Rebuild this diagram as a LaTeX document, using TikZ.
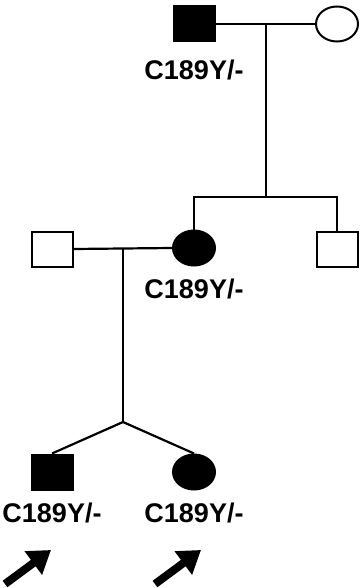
\documentclass[tikz,border=0pt]{standalone}
\usepackage{fontspec}
\setmainfont{Liberation Sans}
\usetikzlibrary{shapes.geometric,positioning,arrows.meta}

\begin{document}
\begin{tikzpicture}[
    x=1pt, y=-1pt,
    male/.style={rectangle, draw=black, line width=2pt, fill=white, minimum width=41pt, minimum height=35pt, inner sep=0pt},
    female/.style={ellipse, draw=black, line width=2pt, fill=white, minimum width=42pt, minimum height=35pt, inner sep=0pt},
    affected/.style={fill=black},
    genotype/.style={font=\fontsize{27}{30}\selectfont\bfseries, inner sep=0pt},
    link/.style={line width=2.2pt},
    proband/.style={line width=8pt, -{Triangle[length=22pt,width=28pt]}}
]
\useasboundingbox (0,0) rectangle (360,588);

% Generation I
\node[male, affected] (gf) at (194, 24) {};
\node[female] (gm) at (337, 24) {};
\node[genotype, below=17pt of gf] (gflab) {C189Y/-};

% Generation II
\node[male] (fa) at (52, 249) {};
\node[female, affected] (mo) at (194, 248) {};
\node[male] (uncle) at (337, 249) {};
\node[genotype, below=12pt of mo] (molab) {C189Y/-};

% Generation III
\node[male, affected] (son) at (52, 472) {};
\node[female, affected] (dau) at (194, 472) {};
\node[genotype, below=12pt of son] (sonlab) {C189Y/-};
\node[genotype, below=12pt of dau] (daulab) {C189Y/-};

% Helper points
\coordinate (m1) at (266, 24);
\coordinate (s1) at (266, 197);
\coordinate (s1l) at (194, 197);
\coordinate (s1r) at (337, 197);
\coordinate (m2) at (123, 249);
\coordinate (s2) at (123, 422);

% Lines
\draw[link] (gf.east) -- (gm.west);
\draw[link] (m1) -- (s1);
\draw[link] (mo.north) -- (s1l) -- (s1r) -- (uncle.north);
\draw[link] (fa.east) -- (mo.west);
\draw[link] (m2) -- (s2);
\draw[link] (son.north) -- (s2) -- (dau.north);

% Proband arrows
\coordinate (p1) at (5, 584);
\coordinate (p1t) at (51, 550);
\coordinate (p2) at (155, 584);
\coordinate (p2t) at (201, 550);
\draw[proband] (p1) -- (p1t);
\draw[proband] (p2) -- (p2t);

\end{tikzpicture}
\end{document}
